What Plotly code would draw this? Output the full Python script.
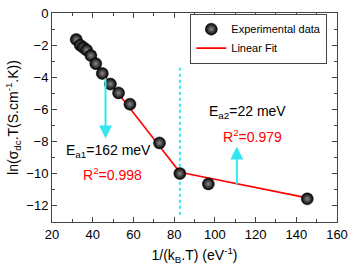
import plotly.graph_objects as go

inv_kT = [31.9, 33.9, 35.4, 37.0, 39.1, 41.5, 44.7, 48.7, 52.7, 58.3, 72.8, 82.8, 96.8, 145.4]
ln_sigT = [-1.65, -2.0, -2.15, -2.3, -2.65, -3.15, -3.76, -4.42, -4.97, -5.67, -8.08, -9.99, -10.63, -11.56]

fit1_x = [31.9, 82.8]
fit1_y = [-1.65, -9.9]
fit2_x = [82.8, 145.4]
fit2_y = [-9.9, -11.5]

divider_x = [82.8, 82.8]
divider_y = [-3.4, -12.7]

x_ticks = [20, 40, 60, 80, 100, 120, 140, 160]
y_ticks = [0, -2, -4, -6, -8, -10, -12]

arrow1 = dict(x=46.3, y_from=-3.96, y_to=-7.8)
arrow2 = dict(x=110.8, y_from=-10.74, y_to=-8.3)

font = "Liberation Sans, Arial, sans-serif"
cyan = "#33E6F0"

fig = go.Figure()
fig.add_trace(go.Scatter(x=divider_x, y=divider_y, mode="lines",
                         line=dict(color=cyan, width=2, dash="dot"), showlegend=False))
fig.add_trace(go.Scatter(x=fit1_x, y=fit1_y, mode="lines", line=dict(color="red", width=1.6),
                         name="Linear Fit", showlegend=False))
fig.add_trace(go.Scatter(x=fit2_x, y=fit2_y, mode="lines", line=dict(color="red", width=1.6),
                         name="Linear Fit", showlegend=False))
fig.add_trace(go.Scatter(x=inv_kT, y=ln_sigT, mode="markers", name="Experimental data",
                         marker=dict(size=12, color="black",
                                     gradient=dict(type="radial", color="#8a8a8a"),
                                     line=dict(width=0.5, color="black"))))
fig.add_trace(go.Scatter(x=[None], y=[None], mode="lines", name="Linear Fit",
                         line=dict(color="red", width=1.6)))

for a in (arrow1, arrow2):
    fig.add_annotation(x=a["x"], y=a["y_to"], ax=a["x"], ay=a["y_from"],
                       xref="x", yref="y", axref="x", ayref="y",
                       showarrow=True, arrowhead=2, arrowsize=1.3, arrowwidth=2,
                       arrowcolor=cyan, text="")

fig.add_annotation(x=26.0, y=-8.6, xanchor="left", yanchor="middle", showarrow=False,
                   text="E<sub>a1</sub>=162 meV", font=dict(family=font, size=14, color="black"))
fig.add_annotation(x=34.2, y=-10.0, xanchor="left", yanchor="middle", showarrow=False,
                   text="R<sup>2</sup>=0.998", font=dict(family=font, size=14, color="red"))
fig.add_annotation(x=96, y=-6.15, xanchor="left", yanchor="middle", showarrow=False,
                   text="E<sub>a2</sub>=22 meV", font=dict(family=font, size=14, color="black"))
fig.add_annotation(x=103, y=-7.66, xanchor="left", yanchor="middle", showarrow=False,
                   text="R<sup>2</sup>=0.979", font=dict(family=font, size=14, color="red"))

axis_common = dict(showgrid=False, zeroline=False, showline=True, linecolor="#444",
                   linewidth=1, mirror="ticks", ticks="inside", ticklen=5, tickcolor="#444",
                   ticklabeloverflow="allow",
                   tickfont=dict(family=font, size=13, color="black"))

fig.update_xaxes(range=[20, 160], tickvals=x_ticks,
                 minor=dict(dtick=10, tick0=0, ticks="inside", ticklen=3, tickcolor="#444"),
                 title=dict(text="1/(k<sub>B</sub>.T) (eV<sup>-1</sup>)",
                            font=dict(family=font, size=14, color="black"), standoff=9),
                 **axis_common)
fig.update_yaxes(range=[-13, 0], tickvals=y_ticks,
                 minor=dict(dtick=1, tick0=0, ticks="inside", ticklen=3, tickcolor="#444"),
                 title=dict(text="ln(σ<sub>dc</sub>.T(S.cm<sup>-1</sup>.K))",
                            font=dict(family=font, size=14, color="black"), standoff=4),
                 **axis_common)

fig.update_layout(width=354, height=268, margin=dict(l=52, r=11, t=6, b=46),
                  plot_bgcolor="white", paper_bgcolor="white",
                  font=dict(family=font),
                  legend=dict(x=0.966, y=0.997, xanchor="right", yanchor="top",
                              bgcolor="white", bordercolor="#444", borderwidth=1,
                              font=dict(family=font, size=11, color="black"),
                              tracegroupgap=0, itemwidth=30))
fig.write_html("out.html", config={"displayModeBar": False},
               post_script="document.body.style.margin='0';document.body.style.padding='0';")
